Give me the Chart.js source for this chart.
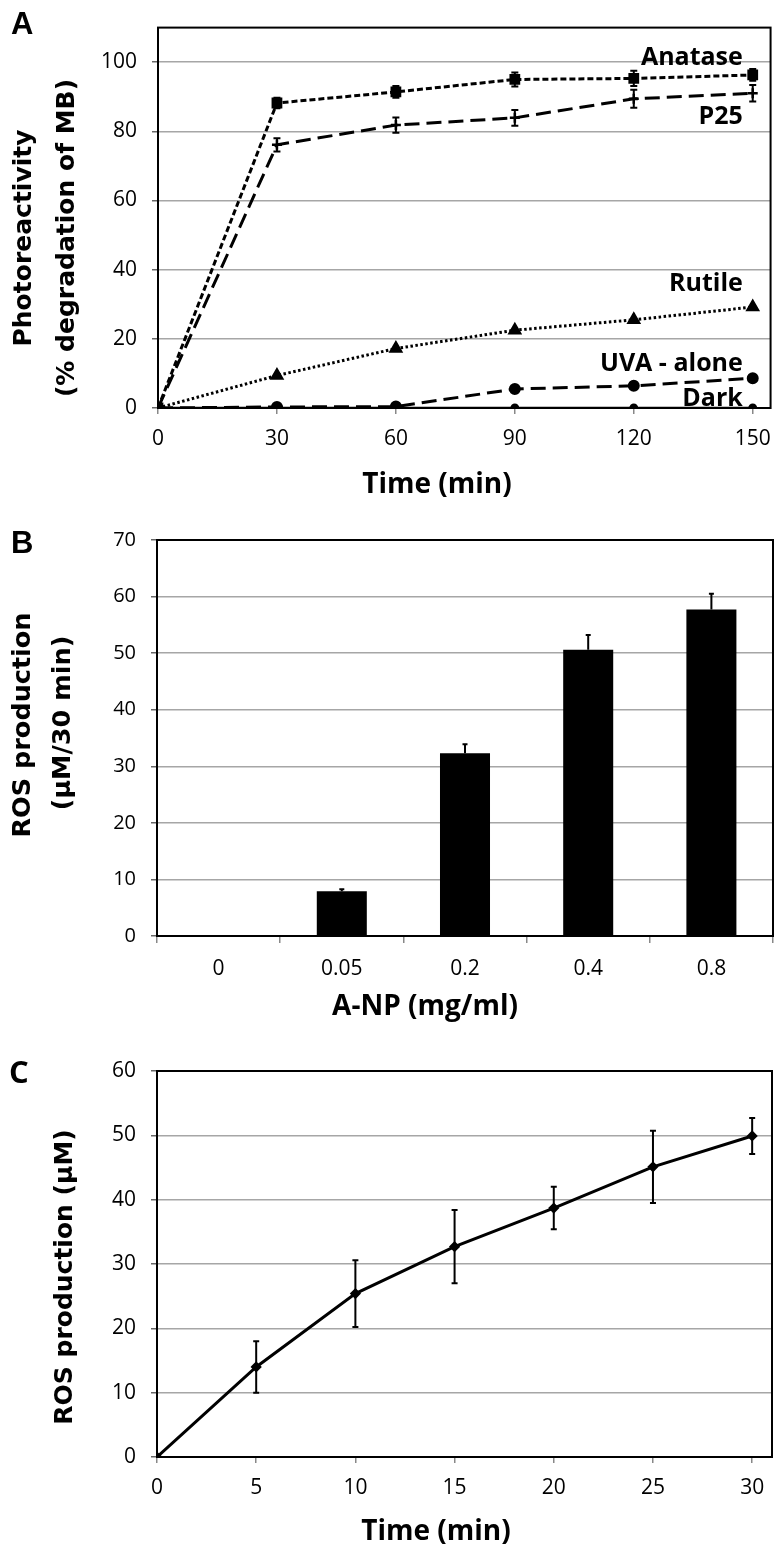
<!DOCTYPE html>
<html><head><meta charset="utf-8">
<script src="https://cdn.jsdelivr.net/npm/chart.js@4.4.1/dist/chart.umd.min.js"></script>
<style>
html,body{margin:0;padding:0;background:#fff;}
#wrap{position:relative;width:783px;height:1559px;background:#fff;}
canvas{position:absolute;left:0;}
</style></head><body>
<div id="wrap">
<canvas id="cA" width="783" height="510" style="top:0px"></canvas>
<canvas id="cB" width="783" height="520" style="top:510px"></canvas>
<canvas id="cC" width="783" height="529" style="top:1030px"></canvas>
</div>
<script>
// ---------- Panel A data ----------
const timeA = [0, 30, 60, 90, 120, 150];
const anatase = [0, 88.2, 91.4, 95.0, 95.3, 96.3];
const anataseErr = [0, 1.5, 1.7, 2.0, 2.2, 1.7];
const p25 = [0, 76.1, 81.8, 83.9, 89.4, 91.0];
const p25Err = [0, 1.9, 2.2, 2.3, 2.6, 2.4];
const rutile = [0, 9.4, 17.2, 22.5, 25.5, 29.2];
const uvaAlone = [0, 0.3, 0.4, 5.5, 6.4, 8.6];
const dark = [0, 0, 0, 0, 0, 0];
const seriesNamesA = ["Anatase", "P25", "Rutile", "UVA - alone", "Dark"];
const yTicksA = [0, 20, 40, 60, 80, 100];
const xTicksA = [0, 30, 60, 90, 120, 150];

// ---------- Panel B data ----------
const concB = ["0", "0.05", "0.2", "0.4", "0.8"];
const rosB = [0, 7.9, 32.3, 50.6, 57.7];
const rosBErr = [0, 0.35, 1.6, 2.6, 2.8];
const yTicksB = [0, 10, 20, 30, 40, 50, 60, 70];

// ---------- Panel C data ----------
const timeC = [0, 5, 10, 15, 20, 25, 30];
const rosC = [0, 14.0, 25.4, 32.7, 38.7, 45.1, 49.9];
const rosCErr = [0, 4.0, 5.2, 5.7, 3.3, 5.6, 2.8];
const yTicksC = [0, 10, 20, 30, 40, 50, 60];
const xTicksC = [0, 5, 10, 15, 20, 25, 30];

// ---------- helpers ----------
const TICK_FONT = {family: "'Open Sans', sans-serif", size: 21};
const TICK_FONT_B = {family: "'Open Sans', sans-serif", size: 20};
const TICK_COLOR = '#000';
const TITLE_Y = "bold 25px 'DejaVu Sans', sans-serif";
const TITLE_X = "bold 28px 'Open Sans', sans-serif";
const LBL = "bold 25px 'Open Sans', sans-serif";
const LETTER = "bold 31px 'Liberation Sans', sans-serif";

const decor = {
  id: 'decor',
  beforeDatasetsDraw(chart) {
    const {ctx, chartArea: a} = chart;
    ctx.save();
    ctx.strokeStyle = '#000'; ctx.lineWidth = 2;
    ctx.strokeRect(a.left, a.top, a.right - a.left, a.bottom - a.top);
    ctx.restore();
  },
  afterDatasetsDraw(chart) {
    const ctx = chart.ctx;
    chart.data.datasets.forEach((ds, di) => {
      if (!ds.err) return;
      const meta = chart.getDatasetMeta(di);
      const ys = chart.scales[meta.yAxisID];
      ctx.save();
      ctx.strokeStyle = '#000'; ctx.lineWidth = ds.errWidth || 2; ctx.setLineDash([]);
      meta.data.forEach((el, i) => {
        const e = ds.err[i]; if (!e) return;
        const v = ds.vals[i];
        const yT = ys.getPixelForValue(v + e);
        const yB = ds.upOnly ? ys.getPixelForValue(v) : ys.getPixelForValue(v - e);
        const x = el.x, c = ds.capHalf || 3;
        ctx.beginPath();
        ctx.moveTo(x, yT); ctx.lineTo(x, yB);
        ctx.moveTo(x - c, yT); ctx.lineTo(x + c, yT);
        if (!ds.upOnly) { ctx.moveTo(x - c, yB); ctx.lineTo(x + c, yB); }
        ctx.stroke();
      });
      ctx.restore();
    });
  },
  afterDraw(chart, args, opts) {
    const ctx = chart.ctx;
    (opts.texts || []).forEach(t => {
      ctx.save();
      ctx.font = t.font; ctx.fillStyle = '#000';
      ctx.textAlign = t.align || 'left'; ctx.textBaseline = 'alphabetic';
      let x = t.x, y = t.y;
      if (t.dx !== undefined) { x = chart.scales.x.getPixelForValue(t.dx); y = chart.scales.y.getPixelForValue(t.dy); }
      ctx.translate(x, y);
      if (t.rot) ctx.rotate(-Math.PI / 2);
      ctx.fillText(t.text, 0, 0);
      ctx.restore();
    });
  }
};

function yAxis(max, step, list, width, font) {
  return {
    type: 'linear', min: 0, max: max,
    ticks: {stepSize: step, padding: 15, color: TICK_COLOR, font: font || TICK_FONT},
    afterBuildTicks: s => { s.ticks = list.map(v => ({value: v})); },
    afterFit: s => { s.width = width; },
    grid: {color: '#a6a6a6', lineWidth: 1.5, tickLength: 6, tickColor: '#666', tickWidth: 1.5},
    border: {display: false}
  };
}
function xLinear(max, list, height) {
  return {
    type: 'linear', min: 0, max: max,
    ticks: {padding: 12, color: TICK_COLOR, font: TICK_FONT, maxRotation: 0, autoSkip: false},
    afterBuildTicks: s => { s.ticks = list.map(v => ({value: v})); },
    afterFit: s => { s.height = height; },
    grid: {drawOnChartArea: false, tickLength: 6, color: '#888', lineWidth: 1.5},
    border: {display: false}
  };
}
const xy = (xs, ys) => xs.map((x, i) => ({x: x, y: ys[i]}));
const base = {responsive: false, animation: false, devicePixelRatio: 1,
  plugins: {legend: {display: false}, tooltip: {enabled: false}}};

// ---------- Panel A ----------
new Chart(document.getElementById('cA'), {
  type: 'line',
  data: {datasets: [
    {label: seriesNamesA[0], data: xy(timeA, anatase), vals: anatase, err: anataseErr, capHalf: 3.5,
      borderColor: '#000', borderWidth: 3, borderDash: [6, 3], pointStyle: 'rect', pointRadius: 5.5,
      pointBackgroundColor: '#000', pointBorderColor: '#000', tension: 0},
    {label: seriesNamesA[1], data: xy(timeA, p25), vals: p25, err: p25Err, capHalf: 3.5,
      borderColor: '#000', borderWidth: 3, borderDash: [15, 7], pointStyle: 'cross', pointRadius: 5,
      pointBorderWidth: 2.5, pointBorderColor: '#000', tension: 0},
    {label: seriesNamesA[2], data: xy(timeA, rutile),
      borderColor: '#000', borderWidth: 3, borderDash: [2.5, 2.5], pointStyle: 'triangle', pointRadius: 5.5,
      pointBackgroundColor: '#000', pointBorderColor: '#000', tension: 0},
    {label: seriesNamesA[3], data: xy(timeA, uvaAlone),
      borderColor: '#000', borderWidth: 3, borderDash: [15, 7], pointStyle: 'circle', pointRadius: 4.5,
      pointBackgroundColor: '#000', pointBorderColor: '#000', tension: 0},
    {label: seriesNamesA[4], data: xy(timeA, dark),
      borderColor: '#000', borderWidth: 2.5, pointStyle: 'circle', pointRadius: 3.2,
      pointBackgroundColor: '#000', pointBorderColor: '#000', tension: 0}
  ]},
  options: Object.assign({}, base, {
    layout: {padding: {top: 13, right: 9, left: 0, bottom: 0}},
    scales: {x: xLinear(154.5, xTicksA, 102), y: yAxis(110, 20, yTicksA, 158)},
    plugins: Object.assign({}, base.plugins, {decor: {texts: [
      {text: 'A', x: 11, y: 34, font: LETTER},
      {text: 'Photoreactivity', x: 31, y: 238, rot: true, align: 'center', font: TITLE_Y},
      {text: '(% degradation of MB)', x: 74, y: 238, rot: true, align: 'center', font: TITLE_Y},
      {text: 'Time (min)', x: 437, y: 493, align: 'center', font: TITLE_X},
      {text: seriesNamesA[0], dx: 147.5, dy: 99.2, align: 'right', font: LBL},
      {text: seriesNamesA[1], dx: 147.5, dy: 82.2, align: 'right', font: LBL},
      {text: seriesNamesA[2], dx: 147.5, dy: 33.9, align: 'right', font: LBL},
      {text: seriesNamesA[3], dx: 147.5, dy: 10.6, align: 'right', font: LBL},
      {text: seriesNamesA[4], dx: 147.5, dy: 0.6, align: 'right', font: LBL}
    ]}})
  }),
  plugins: [decor]
});

// ---------- Panel B ----------
new Chart(document.getElementById('cB'), {
  type: 'bar',
  data: {labels: concB, datasets: [
    {data: rosB, vals: rosB, err: rosBErr, upOnly: true, capHalf: 2.5,
      backgroundColor: '#000', borderWidth: 0, barPercentage: 0.406, categoryPercentage: 1}
  ]},
  options: Object.assign({}, base, {
    layout: {padding: {top: 30, right: 10, left: 0, bottom: 0}},
    scales: {
      x: {type: 'category', offset: true,
        ticks: {padding: 13, color: TICK_COLOR, font: TICK_FONT, maxRotation: 0, autoSkip: false},
        afterFit: s => { s.height = 94; },
        grid: {drawOnChartArea: false, offset: true, tickLength: 7, color: '#888', lineWidth: 1.5},
        border: {display: false}},
      y: yAxis(70, 10, yTicksB, 157, TICK_FONT_B)
    },
    plugins: Object.assign({}, base.plugins, {decor: {texts: [
      {text: 'B', x: 11, y: 43, font: LETTER},
      {text: 'ROS production', x: 30, y: 215, rot: true, align: 'center', font: "bold 25.5px 'DejaVu Sans', sans-serif"},
      {text: '(\u00B5M/30 min)', x: 70, y: 213, rot: true, align: 'center', font: "bold 25.5px 'DejaVu Sans', sans-serif"},
      {text: 'A-NP (mg/ml)', x: 425, y: 505, align: 'center', font: TITLE_X}
    ]}})
  }),
  plugins: [decor]
});

// ---------- Panel C ----------
new Chart(document.getElementById('cC'), {
  type: 'line',
  data: {datasets: [
    {data: xy(timeC, rosC), vals: rosC, err: rosCErr, capHalf: 3,
      borderColor: '#000', borderWidth: 3, pointStyle: 'rectRot', pointRadius: 3.5,
      pointBackgroundColor: '#000', pointBorderColor: '#000', tension: 0}
  ]},
  options: Object.assign({}, base, {
    layout: {padding: {top: 41, right: 11, left: 0, bottom: 0}},
    scales: {x: xLinear(31.0, xTicksC, 102), y: yAxis(60, 10, yTicksC, 157)},
    plugins: Object.assign({}, base.plugins, {decor: {texts: [
      {text: 'C', x: 9, y: 53, font: "bold 31px 'Open Sans', sans-serif"},
      {text: 'ROS production (\u00B5M)', x: 72, y: 247, rot: true, align: 'center', font: TITLE_Y},
      {text: 'Time (min)', x: 436, y: 510, align: 'center', font: TITLE_X}
    ]}})
  }),
  plugins: [decor]
});
</script>
</body></html>
